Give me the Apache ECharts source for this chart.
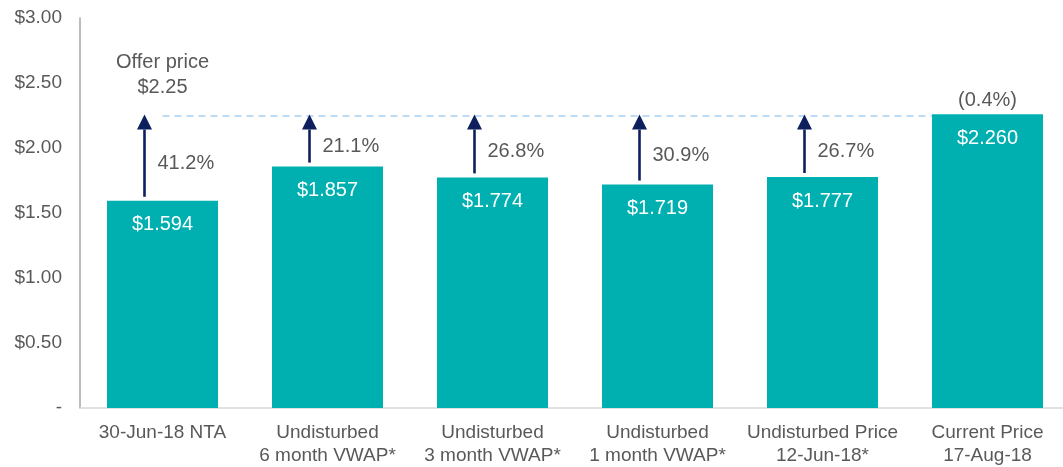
<!DOCTYPE html>
<html>
<head>
<meta charset="utf-8">
<script src="https://cdn.jsdelivr.net/npm/echarts@6/dist/echarts.min.js"></script>
<style>html,body{margin:0;padding:0;background:#fff}#c{width:1063px;height:467px}</style>
</head>
<body>
<div id="c"></div>
<script>
const categories = ['30-Jun-18 NTA', 'Undisturbed\n6 month VWAP*', 'Undisturbed\n3 month VWAP*', 'Undisturbed\n1 month VWAP*', 'Undisturbed Price\n12-Jun-18*', 'Current Price\n17-Aug-18'];
const prices = [1.594, 1.857, 1.774, 1.719, 1.777, 2.260];
const premiumLabels = ['41.2%', '21.1%', '26.8%', '30.9%', '26.7%', '(0.4%)'];
const offerPrice = 2.25;
const offerLabel = 'Offer price\n$2.25';
const yTicks = [0, 0.5, 1, 1.5, 2, 2.5, 3];

const FONT = '"Liberation Sans", Arial, sans-serif';
const GREY = '#595959';
const NAVY = '#0E1F5E';

const chart = echarts.init(document.getElementById('c'), null, {renderer: 'canvas'});

chart.setOption({
  animation: false,
  grid: {left: 80, top: 18, right: -7, bottom: 59, containLabel: false, outerBoundsMode: 'none'},
  xAxis: {
    type: 'category',
    data: categories,
    axisLine: {show: true, lineStyle: {color: '#D9D9D9', width: 1.5}},
    axisTick: {show: false},
    axisLabel: {color: GREY, fontSize: 19, fontFamily: FONT, lineHeight: 23, margin: 13, interval: 0}
  },
  yAxis: {
    type: 'value',
    min: yTicks[0],
    max: yTicks[yTicks.length - 1],
    interval: 0.5,
    splitLine: {show: false},
    axisLine: {show: true, lineStyle: {color: '#A6A6A6', width: 1.5}},
    axisTick: {show: false},
    axisLabel: {
      color: GREY, fontSize: 19, fontFamily: FONT, margin: 18,
      formatter: v => v === 0 ? '-' : '$' + v.toFixed(2)
    }
  },
  series: [
    {
      type: 'bar',
      data: prices,
      barWidth: 111,
      itemStyle: {color: '#00B0B0'},
      z: 3,
      label: {
        show: true, position: 'insideTop', distance: 14,
        color: '#FFFFFF', fontSize: 20, fontFamily: FONT,
        formatter: p => '$' + p.value.toFixed(3)
      },
      markLine: {
        silent: true,
        symbol: ['none', 'none'],
        label: {show: false},
        lineStyle: {color: '#A9CFF2', type: [7, 5], width: 1.5},
        z: 1,
        data: [[{coord: [0, offerPrice]}, {coord: [categories.length - 1, offerPrice]}]]
      }
    },
    {
      type: 'custom',
      z: 5,
      data: prices.map((v, i) => [i, v]),
      renderItem: function (params, api) {
        const i = api.value(0);
        const v = api.value(1);
        const base = api.coord([i, v]);
        const top = api.coord([i, offerPrice]);
        const children = [];
        if (v < offerPrice) {
          const x = base[0] - 18;
          const tipY = top[1] - 1;
          const headBase = tipY + 15;
          const bottom = base[1] - 4;
          children.push({
            type: 'line',
            shape: {x1: x, y1: bottom, x2: x, y2: headBase},
            style: {stroke: NAVY, lineWidth: 2.6}
          });
          children.push({
            type: 'polygon',
            shape: {points: [[x, tipY], [x - 7.5, headBase], [x + 7.5, headBase]]},
            style: {fill: NAVY}
          });
          children.push({
            type: 'text',
            style: {
              text: premiumLabels[i], x: x + 13, y: (headBase + bottom) / 2,
              textAlign: 'left', textVerticalAlign: 'middle',
              fill: GREY, fontSize: 20, fontFamily: FONT
            }
          });
          if (i === 0) {
            children.push({
              type: 'text',
              style: {
                text: offerLabel, x: base[0], y: top[1] - 16,
                textAlign: 'center', textVerticalAlign: 'bottom',
                fill: GREY, fontSize: 20, fontFamily: FONT, lineHeight: 25
              }
            });
          }
        } else {
          children.push({
            type: 'text',
            style: {
              text: premiumLabels[i], x: base[0], y: base[1] - 4,
              textAlign: 'center', textVerticalAlign: 'bottom',
              fill: GREY, fontSize: 20, fontFamily: FONT
            }
          });
        }
        return {type: 'group', children: children};
      }
    }
  ]
});
</script>
</body>
</html>
